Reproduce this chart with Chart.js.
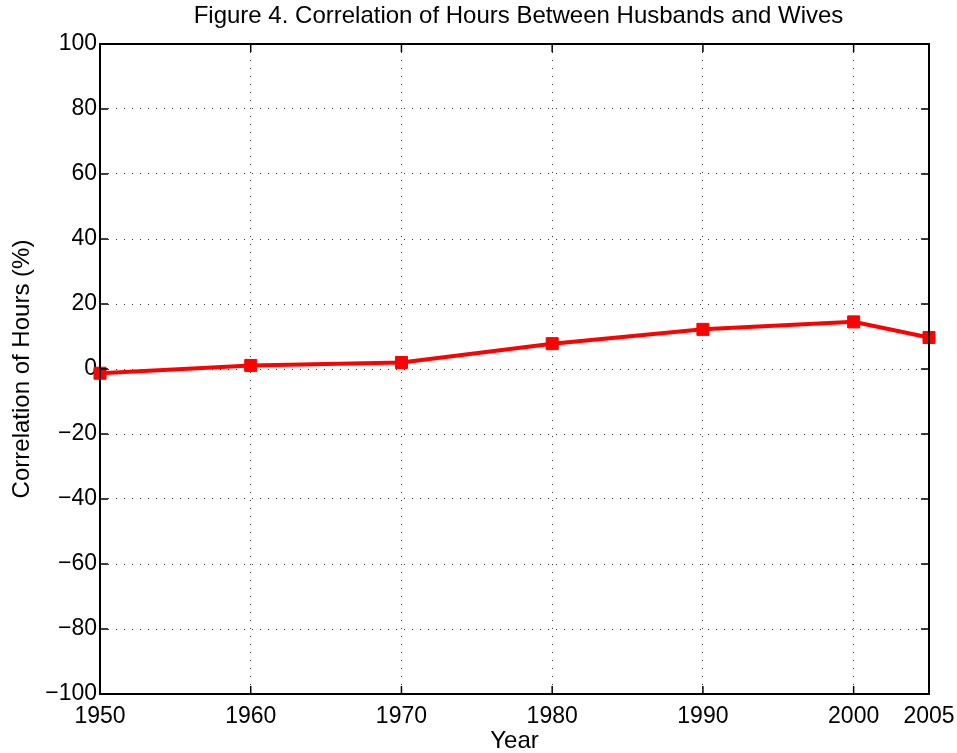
<!DOCTYPE html>
<html>
<head>
<meta charset="utf-8">
<script src="https://cdn.jsdelivr.net/npm/chart.js@4/dist/chart.umd.min.js"></script>
<style>
	html, body { margin: 0; padding: 0; background: #fff; }
	#wrap { width: 957px; height: 753px; }
</style>
</head>
<body>
<div id="wrap"><canvas id="myChart"></canvas></div>
<script>
// values
var years = [1950, 1960, 1970, 1980, 1990, 2000, 2005];
var correlation = [-1.3, 1.1, 2.0, 7.8, 12.2, 14.5, 9.7];
var xTicks = [1950, 1960, 1970, 1980, 1990, 2000, 2005];
var yTicks = [-100, -80, -60, -40, -20, 0, 20, 40, 60, 80, 100];
var chartTitle = 'Figure 4. Correlation of Hours Between Husbands and Wives';

var FONT = 'Liberation Sans, Arial, Helvetica, sans-serif';

var points = [];
for (var i = 0; i < years.length; i++) {
	points.push({ x : years[i], y : correlation[i] });
}

// matlab style box with inward ticks on all four sides, title centred on the axes
var boxPlugin = {
	id : 'matlabBox',
	afterDatasetsDraw : function(chart) {
		var ctx = chart.ctx;
		var a = chart.chartArea;
		var xs = chart.scales.x;
		var ys = chart.scales.y;
		var len = 8;
		ctx.save();
		ctx.setLineDash([]);
		ctx.strokeStyle = '#000';
		ctx.lineWidth = 1.5;
		ctx.beginPath();
		xTicks.forEach(function(v) {
			var px = xs.getPixelForValue(v);
			ctx.moveTo(px, a.bottom); ctx.lineTo(px, a.bottom - len);
			ctx.moveTo(px, a.top); ctx.lineTo(px, a.top + len);
		});
		yTicks.forEach(function(v) {
			var py = ys.getPixelForValue(v);
			ctx.moveTo(a.left, py); ctx.lineTo(a.left + len, py);
			ctx.moveTo(a.right, py); ctx.lineTo(a.right - len, py);
		});
		ctx.stroke();
		ctx.lineWidth = 2;
		ctx.strokeRect(a.left, a.top, a.right - a.left, a.bottom - a.top);

		ctx.fillStyle = '#000';
		ctx.font = '24px ' + FONT;
		ctx.textAlign = 'center';
		ctx.textBaseline = 'middle';
		ctx.fillText(chartTitle, (a.left + a.right) / 2 + 4, 16);
		ctx.restore();
	}
};

var ctx = document.getElementById('myChart').getContext('2d');
var chart = new Chart(ctx, {
	type : 'line',
	data : {
		datasets : [ {
			label : 'Correlation',
			data : points,
			borderColor : 'rgb(255, 0, 0)',
			backgroundColor : 'rgb(255, 0, 0)',
			borderWidth : 4,
			pointStyle : 'rect',
			pointRadius : 8.5,
			pointBorderWidth : 1,
			fill : false,
			tension : 0,
			clip : false
		} ]
	},
	options : {
		responsive : true,
		maintainAspectRatio : false,
		animation : false,
		events : [],
		layout : {
			padding : { left : 0, right : 28, top : 44, bottom : 0 }
		},
		plugins : {
			legend : { display : false },
			tooltip : { enabled : false },
			title : { display : false }
		},
		scales : {
			x : {
				type : 'linear',
				min : 1950,
				max : 2005,
				afterBuildTicks : function(scale) {
					scale.ticks = xTicks.map(function(v) { return { value : v }; });
				},
				afterFit : function(scale) {
					scale.height = 59;
					scale.paddingLeft = 0;
					scale.paddingRight = 0;
				},
				ticks : {
					autoSkip : false,
					maxRotation : 0,
					padding : 9,
					color : '#000',
					font : { family : FONT, size : 23 },
					callback : function(v) { return String(v); }
				},
				grid : { color : '#333', lineWidth : 1, drawTicks : false },
				border : { display : false, dash : [1, 7] },
				title : {
					display : true,
					text : 'Year',
					color : '#000',
					font : { family : FONT, size : 24, lineHeight : 1 },
					padding : { top : 0, bottom : 0 }
				}
			},
			y : {
				type : 'linear',
				min : -100,
				max : 100,
				afterBuildTicks : function(scale) {
					scale.ticks = yTicks.map(function(v) { return { value : v }; });
				},
				afterFit : function(scale) { scale.width = 100; },
				ticks : {
					padding : 3,
					color : '#000',
					font : { family : FONT, size : 23 },
					callback : function(v) { return String(v).replace('-', '\u2212'); }
				},
				grid : { color : '#333', lineWidth : 1, drawTicks : false },
				border : { display : false, dash : [1, 7] },
				title : {
					display : true,
					text : 'Correlation of Hours (%)',
					color : '#000',
					font : { family : FONT, size : 24, lineHeight : 1 },
					padding : { top : 10, bottom : 0 }
				}
			}
		}
	},
	plugins : [ boxPlugin ]
});
</script>
</body>
</html>
